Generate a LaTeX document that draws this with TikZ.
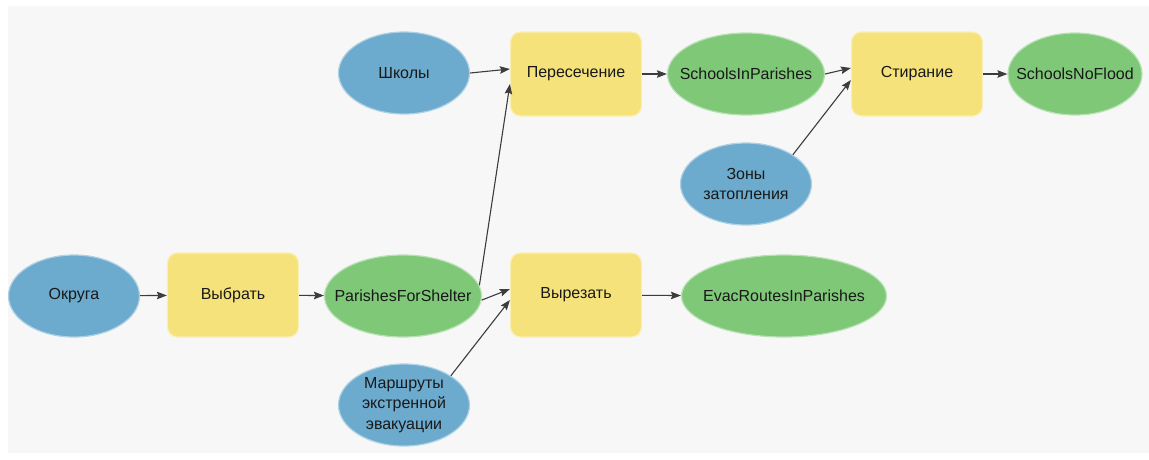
\documentclass[tikz,border=0pt]{standalone}
\usepackage{fontspec}
\setmainfont{Liberation Sans}
\usetikzlibrary{shapes.geometric,arrows.meta}
\definecolor{bgc}{HTML}{F7F7F7}
\definecolor{inblue}{HTML}{6CABCE}
\definecolor{outgreen}{HTML}{7EC878}
\definecolor{toolyel}{HTML}{F5E27A}
\definecolor{arr}{HTML}{3C3C3C}
\newcommand{\zw}[1]{\makebox[0pt]{#1}}
\tikzset{
  base/.style={font=\fontsize{16}{20.5}\selectfont, text=black!90, align=center, inner sep=0pt, line width=1.2pt},
  inp/.style={base, ellipse, fill=inblue, draw=inblue!55!white, minimum width=131pt, minimum height=82pt},
  outp/.style={base, ellipse, fill=outgreen, draw=outgreen!55!white, minimum height=82pt},
  tool/.style={base, rectangle, rounded corners=10pt, fill=toolyel, draw=toolyel!55!white, minimum width=131pt, minimum height=84pt},
  conn/.style={draw=arr, line width=1.1pt, -{Stealth[length=10pt,width=7.5pt,inset=1.5pt]}}
}
\begin{document}
\begin{tikzpicture}[x=1pt,y=-1pt]
\useasboundingbox (0,0) rectangle (1149,459);
\fill[bgc] (8,6) rectangle (1149,453);
% nodes
\node[inp] (okr) at (74,296) {Округа};
\node[tool] (vyb) at (233,295) {Выбрать};
\node[outp, minimum width=157pt] (pfs) at (403,296) {\zw{ParishesForShelter}};
\node[tool] (vyr) at (576,295) {Вырезать};
\node[outp, minimum width=205pt] (evac) at (784,296) {\zw{EvacRoutesInParishes}};
\node[inp] (mar) at (404,405) {Маршруты\\экстренной\\эвакуации};
\node[inp] (sch) at (404,73) {Школы};
\node[tool] (per) at (576,74) {Пересечение};
\node[outp, minimum width=157pt] (sip) at (746,74) {\zw{SchoolsInParishes}};
\node[inp] (zon) at (746,184) {Зоны\\затопления};
\node[tool] (sti) at (917,74) {Стирание};
\node[outp, minimum width=134pt] (snf) at (1075,74) {\zw{SchoolsNoFlood}};
% connectors
\draw[conn] (okr) -- (vyb);
\draw[conn] (vyb) -- (pfs);
\draw[conn] (pfs.8) -- ([yshift=-10pt]per.west);
\draw[conn] (pfs.-3) -- ([yshift=6pt]vyr.west);
\draw[conn] (mar.32) -- ([yshift=-5pt]vyr.west);
\draw[conn] (vyr) -- (evac);
\draw[conn] (sch.east) -- ([yshift=5pt]per.west);
\draw[conn] (per) -- (sip);
\draw[conn] (sip.east) -- ([yshift=6pt]sti.west);
\draw[conn] (zon.32) -- ([yshift=-6pt]sti.west);
\draw[conn] (sti) -- (snf);
\end{tikzpicture}
\end{document}
